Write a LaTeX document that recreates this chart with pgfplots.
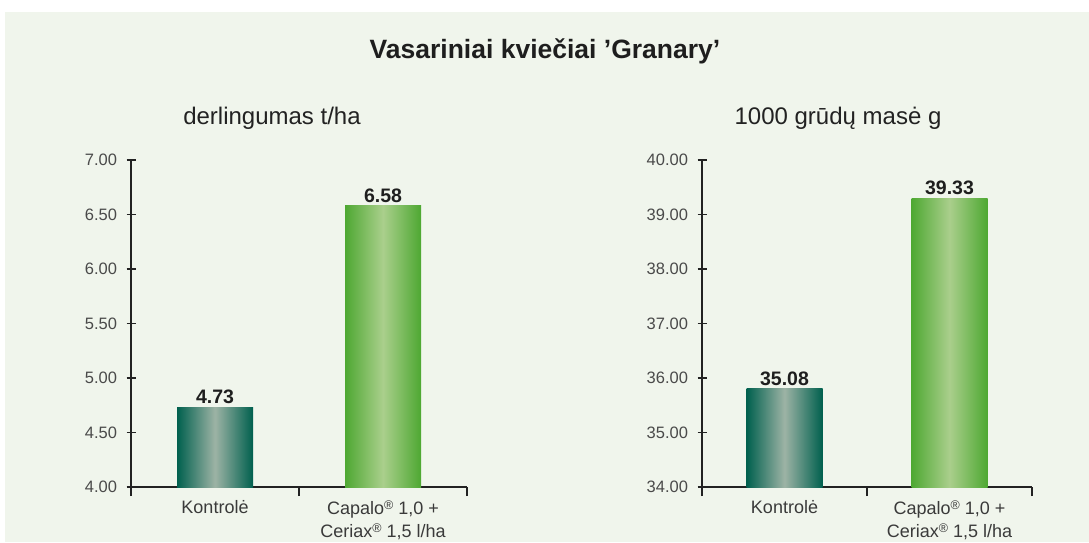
\documentclass[border=0pt]{standalone}
\usepackage{fontspec}
\setmainfont{Liberation Sans}
\usepackage{pgfplots}
\pgfplotsset{compat=1.18}
\definecolor{bg}{HTML}{F0F5EC}
\definecolor{axcol}{HTML}{222222}
\definecolor{tickcol}{HTML}{4A4A4A}
\definecolor{catcol}{HTML}{3A3A3A}
\definecolor{valcol}{HTML}{1E1E1E}
\definecolor{tealA}{HTML}{00604E}
\definecolor{tealB}{HTML}{9DB3A5}
\definecolor{greenA}{HTML}{4EA832}
\definecolor{greenB}{HTML}{AACF8C}
\newcommand{\reg}{\raisebox{0.28em}{\fontsize{12.5}{12.5}\selectfont ®}}
\pgfplotsset{
  mystyle/.style={
    scale only axis, height=327pt,
    xmin=-0.5, xmax=1.5,
    axis x line=bottom, axis y line=left,
    axis line style={-, line width=1.3pt, draw=axcol},
    tick style={line width=1.3pt, draw=axcol},
    tick align=center, major tick length=9pt,
    xtick={-0.5,0.5,1.5}, xticklabels={},
    xtick style={yshift=-4.5pt},
    extra x ticks={0,1},
    extra x tick labels={Kontrolė,{Capalo\reg{} 1,0 +\\Ceriax\reg{} 1,5 l/ha}},
    extra x tick style={major tick length=0pt, tick style={draw=none}},
    xticklabel style={align=center, font=\fontsize{18}{23}\selectfont, text=catcol, yshift=-10pt},
    yticklabel style={font=\fontsize{16.5}{19}\selectfont, text=tickcol, xshift=-6pt},
    /pgf/number format/.cd, fixed, fixed zerofill, precision=2, assume math mode=true, /pgfplots/.cd,
    every node near coord/.append style={font=\fontsize{19.5}{22}\selectfont\bfseries, text=valcol},
    clip=true,
  },
  mybar/.style={ybar, bar width=76pt, bar shift=0pt, draw=none,
    nodes near coords, nodes near coords align={vertical}, point meta=explicit symbolic},
}
\begin{document}
\begin{tikzpicture}
\fill[white] (0,0) rectangle (1089pt,542pt);
\fill[bg] (5pt,0) rectangle (1089pt,530pt);
\node[font=\fontsize{26.5}{30}\selectfont\bfseries, text=valcol] at (545pt,491pt) {Vasariniai kviečiai ’Granary’};
\node[font=\fontsize{24}{28}\selectfont, text=axcol] at (272pt,424pt) {derlingumas t/ha};
\node[font=\fontsize{24}{28}\selectfont, text=axcol] at (838pt,424pt) {1000 grūdų masė g};
\begin{axis}[mystyle, at={(131pt,55pt)}, anchor=south west, width=336pt,
  ymin=4, ymax=7, ytick={4,4.5,5,5.5,6,6.5,7}]
\addplot[mybar, left color=tealA, right color=tealA, middle color=tealB] coordinates {(0,4.73) [4.73]};
\addplot[mybar, left color=greenA, right color=greenA, middle color=greenB] coordinates {(1,6.58) [6.58]};
\end{axis}
\begin{axis}[mystyle, at={(702pt,55pt)}, anchor=south west, width=330pt,
  ymin=34, ymax=40, ytick={34,35,36,37,38,39,40}]
\addplot[mybar, left color=tealA, right color=tealA, middle color=tealB] coordinates {(0,35.8) [35.08]};
\addplot[mybar, left color=greenA, right color=greenA, middle color=greenB] coordinates {(1,39.29) [39.33]};
\end{axis}
\pgfresetboundingbox
\useasboundingbox (0,0) rectangle (1089pt,542pt);
\end{tikzpicture}
\end{document}
